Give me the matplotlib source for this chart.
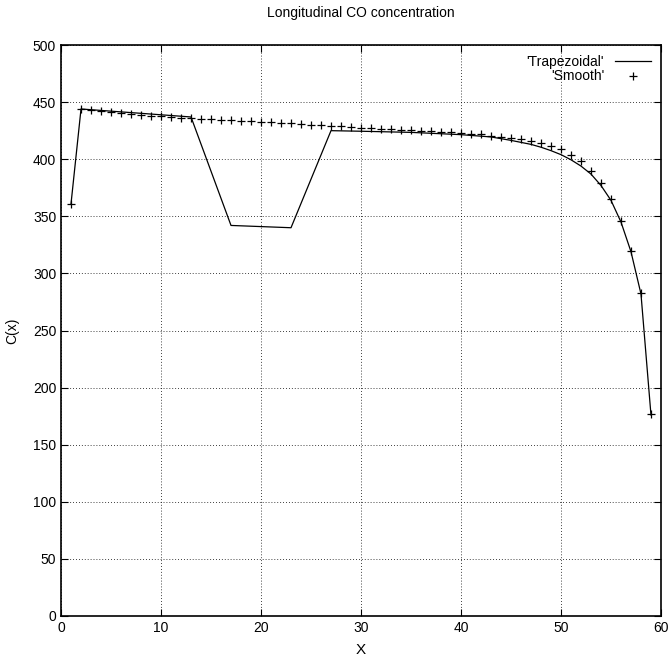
import matplotlib
matplotlib.use('Agg')
import matplotlib.pyplot as plt

plt.rcParams['font.family'] = ['Liberation Sans Narrow', 'Liberation Sans', 'DejaVu Sans']

# Trapezoidal profile (piecewise, then following the decay near the exit)
x_trap = [1, 2, 13, 17, 23, 27, 30, 35, 40, 43, 45, 47, 48, 49, 50, 51, 52, 53, 54, 55, 56, 57, 58, 59]
c_trap = [361, 444, 437, 342, 340, 425, 424.5, 423.5, 421.5, 419.5, 416.5, 413, 410.5, 407.5, 404,
          399.5, 394, 387, 377, 364, 345, 319, 282, 176]

# Smooth profile, one value per cell
x_smooth = list(range(1, 60))
c_smooth = [361, 444.2, 443.1, 442.2, 441.3, 440.2, 439.6, 438.7, 438.1, 437.5,
            436.9, 436.4, 436.1, 435.5, 435.2, 434.6, 434.0, 433.7, 433.1, 432.6,
            432.3, 431.7, 431.4, 430.8, 430.2, 429.9, 429.3, 428.8, 428.2, 427.6,
            427.2, 426.8, 426.4, 426.0, 425.6, 425.1, 424.6, 424.1, 423.6, 423.0,
            422.4, 421.8, 420.6, 419.8, 418.9, 417.4, 416.0, 414.0, 411.8, 409.0,
            403.7, 398.0, 390.0, 379.0, 365.0, 346.0, 320.0, 283.0, 177.0]

fig = plt.figure(figsize=(6.72, 6.66), dpi=100)
ax = fig.add_axes([0.0908, 0.0751, 0.8928, 0.8573])

ax.plot(x_trap, c_trap, color='black', lw=0.9, label="'Trapezoidal'")
ax.plot(x_smooth, c_smooth, ls='none', marker='+', ms=6, mew=0.9, color='black', label="'Smooth'")

ax.set_xlim(0, 60)
ax.set_ylim(0, 500)
ax.set_xticks(range(0, 61, 10))
ax.set_yticks(range(0, 501, 50))
ax.grid(True, color='black', ls=(0, (1, 2.5)), lw=0.6)
ax.tick_params(direction='in', length=5, width=0.8, top=True, right=True, labelsize=10)
for s in ax.spines.values():
    s.set_linewidth(1.2)

ax.set_title('Longitudinal CO concentration', fontsize=10, pad=20)
ax.set_xlabel('X', fontsize=11, labelpad=6)
ax.set_ylabel('C(x)', fontsize=10, labelpad=10)

ax.legend(loc='upper right', frameon=False, markerfirst=False, fontsize=10,
          handlelength=2.6, handletextpad=0.8, borderaxespad=0.3, labelspacing=0.05)
for t in ax.get_legend().get_texts():
    t.set_ha('right')

fig.savefig('out.png', dpi=100)
